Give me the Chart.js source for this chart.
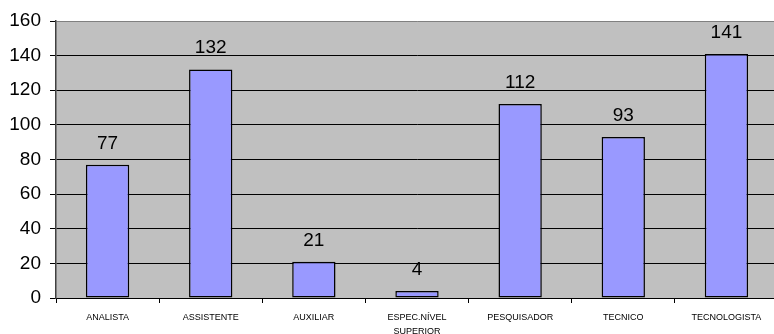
<!DOCTYPE html>
<html>
<head>
<meta charset="utf-8">
<script src="https://cdn.jsdelivr.net/npm/chart.js@4.4.1/dist/chart.umd.min.js"></script>
<style>
  html, body { margin: 0; padding: 0; background: #fff; overflow: hidden; }
  #wrap { position: relative; width: 778px; height: 334px; }
</style>
</head>
<body>
<div id="wrap"><canvas id="chart"></canvas></div>
<script>
// Staff count by career category
const categories = ['ANALISTA', 'ASSISTENTE', 'AUXILIAR', ['ESPEC.NÍVEL', 'SUPERIOR'], 'PESQUISADOR', 'TECNICO', 'TECNOLOGISTA'];
const counts = [77, 132, 21, 4, 112, 93, 141];
const yTicks = [0, 20, 40, 60, 80, 100, 120, 140, 160];

const FONT = "Arial, 'Liberation Sans', sans-serif";

// Gray plot-area fill behind the bars
const plotBackground = {
  id: 'plotBackground',
  beforeDraw(chart) {
    const { ctx, chartArea: a } = chart;
    ctx.save();
    ctx.fillStyle = '#c0c0c0';
    ctx.fillRect(a.left, a.top, a.right - a.left, a.bottom - a.top);
    ctx.restore();
  }
};

// Value printed above each bar
const valueLabels = {
  id: 'valueLabels',
  afterDatasetsDraw(chart) {
    const { ctx } = chart;
    const meta = chart.getDatasetMeta(0);
    ctx.save();
    ctx.font = '19px ' + FONT;
    ctx.fillStyle = '#000';
    ctx.textAlign = 'center';
    ctx.textBaseline = 'alphabetic';
    meta.data.forEach((bar, i) => {
      ctx.fillText(String(counts[i]), bar.x, bar.y - 16);
    });
    ctx.restore();
  }
};

new Chart(document.getElementById('chart'), {
  type: 'bar',
  data: {
    labels: categories,
    datasets: [{
      data: counts,
      backgroundColor: '#9999ff',
      borderColor: '#000',
      borderWidth: 1.5,
      borderSkipped: false,
      categoryPercentage: 1,
      barPercentage: 0.42
    }]
  },
  options: {
    responsive: true,
    maintainAspectRatio: false,
    animation: false,
    layout: { padding: { top: 21, right: 0, bottom: 0, left: 0 } },
    plugins: { legend: { display: false }, tooltip: { enabled: false } },
    scales: {
      x: {
        offset: true,
        grid: {
          offset: true,
          drawOnChartArea: false,
          drawTicks: true,
          tickLength: 5,
          color: '#000',
          tickColor: '#000'
        },
        border: { color: '#000', width: 1 },
        ticks: {
          autoSkip: false,
          maxRotation: 0,
          minRotation: 0,
          padding: 8,
          color: '#000',
          font: { family: FONT, size: 9, lineHeight: 1.5 }
        },
        afterFit(scale) { scale.height = 36; }
      },
      y: {
        min: 0,
        max: 160,
        afterBuildTicks(scale) { scale.ticks = yTicks.map(v => ({ value: v })); },
        grid: {
          color: ctx => (ctx.tick && ctx.tick.value === 160 ? '#808080' : '#000'),
          tickColor: '#000',
          tickLength: 6,
          lineWidth: 1
        },
        border: { color: '#404040', width: 1.5 },
        ticks: {
          padding: 9,
          color: '#000',
          font: { family: FONT, size: 19 }
        },
        afterFit(scale) { scale.width = 56; }
      }
    }
  },
  plugins: [plotBackground, valueLabels]
});
</script>
</body>
</html>
